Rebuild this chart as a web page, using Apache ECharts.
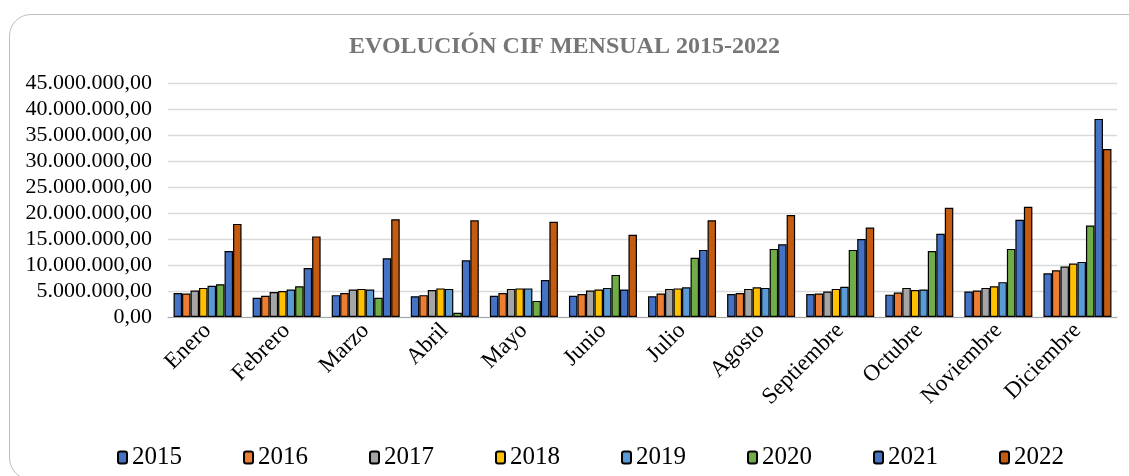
<!DOCTYPE html>
<html>
<head>
<meta charset="utf-8">
<title>Evolución CIF mensual</title>
<script src="https://cdn.jsdelivr.net/npm/echarts@6/dist/echarts.min.js"></script>
<style>
  html, body { margin: 0; padding: 0; background: #fff; overflow: hidden; }
  #frame {
    position: absolute; left: 9px; top: 14px; width: 1150px; height: 466px;
    border: 1px solid #bfbfbf; border-radius: 22px; box-sizing: border-box;
  }
  #chart { position: absolute; left: 0; top: 0; width: 1129px; height: 476px; }
</style>
</head>
<body>
<div id="frame"></div>
<div id="chart"></div>
<script>
// meses
var months = ['Enero', 'Febrero', 'Marzo', 'Abril', 'Mayo', 'Junio', 'Julio',
  'Agosto', 'Septiembre', 'Octubre', 'Noviembre', 'Diciembre'];
var years = ['2015', '2016', '2017', '2018', '2019', '2020', '2021', '2022'];
var colors = ['#4472C4', '#ED7D31', '#A5A5A5', '#FFC000', '#5B9BD5', '#70AD47', '#4472C4', '#C55A11'];

// valores CIF por año (millones)
var v2015 = [4.6, 3.7, 4.2, 4.0, 4.1, 4.1, 4.0, 4.4, 4.4, 4.3, 4.9, 8.4];
var v2016 = [4.5, 4.1, 4.6, 4.2, 4.6, 4.4, 4.5, 4.6, 4.5, 4.7, 5.1, 9.0];
var v2017 = [5.1, 4.8, 5.3, 5.2, 5.4, 5.1, 5.4, 5.4, 4.9, 5.6, 5.6, 9.7];
var v2018 = [5.6, 5.0, 5.4, 5.5, 5.5, 5.3, 5.5, 5.7, 5.4, 5.2, 5.9, 10.3];
var v2019 = [6.0, 5.3, 5.3, 5.4, 5.5, 5.6, 5.7, 5.6, 5.8, 5.3, 6.7, 10.6];
var v2020 = [6.3, 5.9, 3.7, 0.8, 3.1, 8.1, 11.4, 13.1, 12.9, 12.7, 13.1, 17.6];
var v2021 = [12.7, 9.4, 11.3, 10.9, 7.1, 5.3, 12.9, 14.0, 15.0, 16.0, 18.7, 38.1];
var v2022 = [17.9, 15.5, 18.8, 18.6, 18.3, 15.8, 18.6, 19.6, 17.2, 21.0, 21.2, 32.3];
var allValues = [v2015, v2016, v2017, v2018, v2019, v2020, v2021, v2022];

var serif = 'Liberation Serif';

function fmt(v) {
  var s = Math.round(v).toString().replace(/\B(?=(\d{3})+(?!\d))/g, '.');
  return s + ',00';
}

var series = [];
for (var i = 0; i < years.length; i++) {
  series.push({
    name: years[i],
    type: 'bar',
    barGap: '0%',
    barCategoryGap: '14%',
    itemStyle: { color: colors[i], borderColor: '#000', borderWidth: 1.2 },
    data: allValues[i].map(function (x) { return x * 1000000; })
  });
}

var myChart = echarts.init(document.getElementById('chart'));
var option = {
  animation: false,
  title: {
    text: 'EVOLUCIÓN CIF MENSUAL 2015-2022',
    left: 'center',
    top: 30,
    textStyle: { fontFamily: serif, fontSize: 24, fontWeight: 'bold', color: '#767676' }
  },
  legend: {
    left: 112,
    top: 440,
    itemWidth: 9,
    itemHeight: 12,
    itemGap: 61,
    textStyle: { fontFamily: serif, fontSize: 25, color: '#000' },
    data: years
  },
  grid: { left: 168, right: 12, top: 83, bottom: 159 },
  xAxis: {
    type: 'category',
    data: months,
    axisTick: { show: false },
    axisLine: { lineStyle: { color: '#a6a6a6' } },
    axisLabel: {
      rotate: 45,
      margin: 10,
      interval: 0,
      fontFamily: serif,
      fontSize: 23,
      color: '#000'
    }
  },
  yAxis: {
    type: 'value',
    min: 0,
    max: 45000000,
    interval: 5000000,
    axisLine: { show: false },
    axisTick: { show: false },
    splitLine: { lineStyle: { color: '#d9d9d9', width: 1.3 } },
    axisLabel: {
      fontFamily: serif,
      fontSize: 22,
      color: '#000',
      margin: 16,
      formatter: fmt
    }
  },
  series: series
};
myChart.setOption(option);
</script>
</body>
</html>
